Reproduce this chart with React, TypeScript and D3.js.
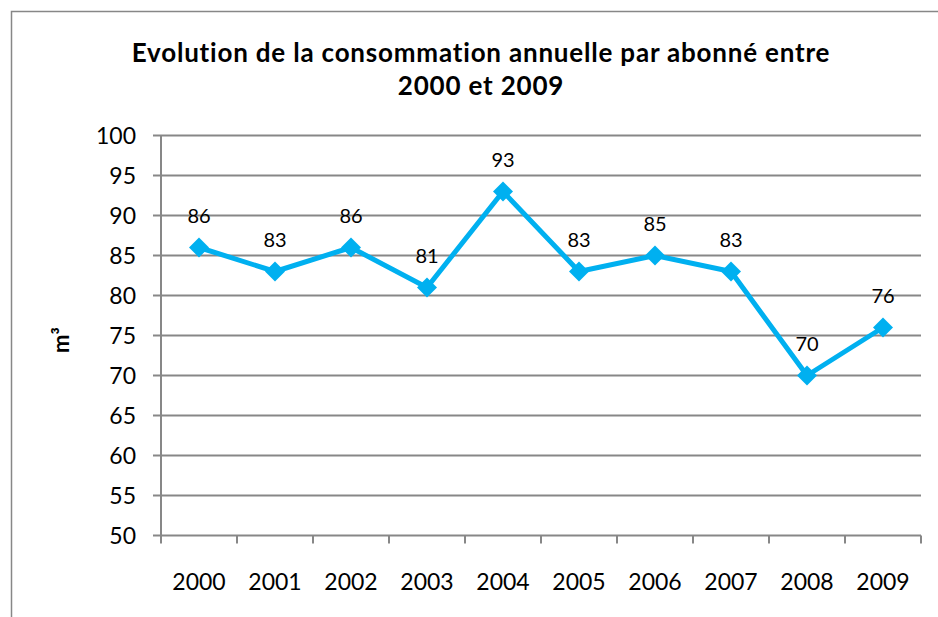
import React, { useEffect, useRef } from 'react';
import * as d3 from 'd3';

const years = ['2000', '2001', '2002', '2003', '2004', '2005', '2006', '2007', '2008', '2009'];
const consumption = [86, 83, 86, 81, 93, 83, 85, 83, 70, 76];
const yTicks = [50, 55, 60, 65, 70, 75, 80, 85, 90, 95, 100];
const titleLines = ['Evolution de la consommation annuelle par abonné entre', '2000 et 2009'];

const App = () => {
  const ref = useRef<SVGSVGElement>(null);

  useEffect(() => {
    const width = 938;
    const height = 617;
    const margin = { top: 135.5, right: 17, bottom: 81.5, left: 161 };
    const gray = '#878787';
    const blue = '#00B0F0';
    const font = 'Lato, "Open Sans", sans-serif';

    const svg = d3.select(ref.current)
      .attr('width', width)
      .attr('height', height)
      .attr('viewBox', `0 0 ${width} ${height}`);

    svg.selectAll('*').remove();

    svg.append('rect')
      .attr('x', 11.5)
      .attr('y', 11.5)
      .attr('width', 960)
      .attr('height', 640)
      .attr('fill', 'white')
      .attr('stroke', gray)
      .attr('stroke-width', 1.5);

    const x = d3.scaleBand().domain(years).range([margin.left, width - margin.right]);
    const y = d3.scaleLinear().domain([50, 100]).range([height - margin.bottom, margin.top]);

    // gridlines
    svg.append('g')
      .selectAll('line')
      .data(yTicks)
      .join('line')
      .attr('x1', margin.left - 8)
      .attr('x2', width - margin.right)
      .attr('y1', d => y(d))
      .attr('y2', d => y(d))
      .attr('stroke', gray)
      .attr('stroke-width', 2);

    // y axis line
    svg.append('line')
      .attr('x1', margin.left)
      .attr('x2', margin.left)
      .attr('y1', y(100))
      .attr('y2', y(50) + 8)
      .attr('stroke', gray)
      .attr('stroke-width', 2);

    // x ticks
    const xEdges = years.map(d => x(d)!).concat([width - margin.right]);
    svg.append('g')
      .selectAll('line')
      .data(xEdges.slice(1))
      .join('line')
      .attr('x1', d => d)
      .attr('x2', d => d)
      .attr('y1', y(50))
      .attr('y2', y(50) + 8)
      .attr('stroke', gray)
      .attr('stroke-width', 2);

    svg.append('g')
      .selectAll('text')
      .data(yTicks)
      .join('text')
      .attr('x', 136)
      .attr('y', d => y(d) + 8.5)
      .attr('text-anchor', 'end')
      .attr('font-family', font)
      .attr('font-size', 23)
      .text(d => d);

    svg.append('g')
      .selectAll('text')
      .data(years)
      .join('text')
      .attr('x', d => x(d)! + x.bandwidth() / 2)
      .attr('y', 590)
      .attr('text-anchor', 'middle')
      .attr('font-family', font)
      .attr('font-size', 23)
      .text(d => d);

    svg.append('text')
      .attr('transform', 'translate(69, 340) rotate(-90)')
      .attr('text-anchor', 'middle')
      .attr('font-family', font)
      .attr('font-weight', 'bold')
      .attr('font-size', 22)
      .text('m³');

    svg.append('g')
      .selectAll('text')
      .data(titleLines)
      .join('text')
      .attr('x', 481)
      .attr('y', (d, i) => 62 + i * 33)
      .attr('text-anchor', 'middle')
      .attr('font-family', font)
      .attr('font-weight', 'bold')
      .attr('font-size', 26)
      .attr('letter-spacing', 0.8)
      .text(d => d);

    const cx = (i: number) => x(years[i])! + x.bandwidth() / 2;

    const line = d3.line<number>()
      .x((d, i) => cx(i))
      .y(d => y(d));

    svg.append('path')
      .datum(consumption)
      .attr('d', line)
      .attr('fill', 'none')
      .attr('stroke', blue)
      .attr('stroke-width', 5)
      .attr('stroke-linejoin', 'round');

    const diamond = d3.symbol().type(d3.symbolSquare).size(200);
    svg.append('g')
      .selectAll('path')
      .data(consumption)
      .join('path')
      .attr('d', diamond)
      .attr('transform', (d, i) => `translate(${cx(i)}, ${y(d)}) rotate(45)`)
      .attr('fill', blue);

    svg.append('g')
      .selectAll('text')
      .data(consumption)
      .join('text')
      .attr('x', (d, i) => cx(i))
      .attr('y', d => y(d) - 25)
      .attr('text-anchor', 'middle')
      .attr('font-family', font)
      .attr('font-size', 20)
      .text(d => d);
  }, []);

  return (
    <svg ref={ref} style={{ position: 'absolute', left: 0, top: 0, display: 'block' }}></svg>
  );
};

export default App;
